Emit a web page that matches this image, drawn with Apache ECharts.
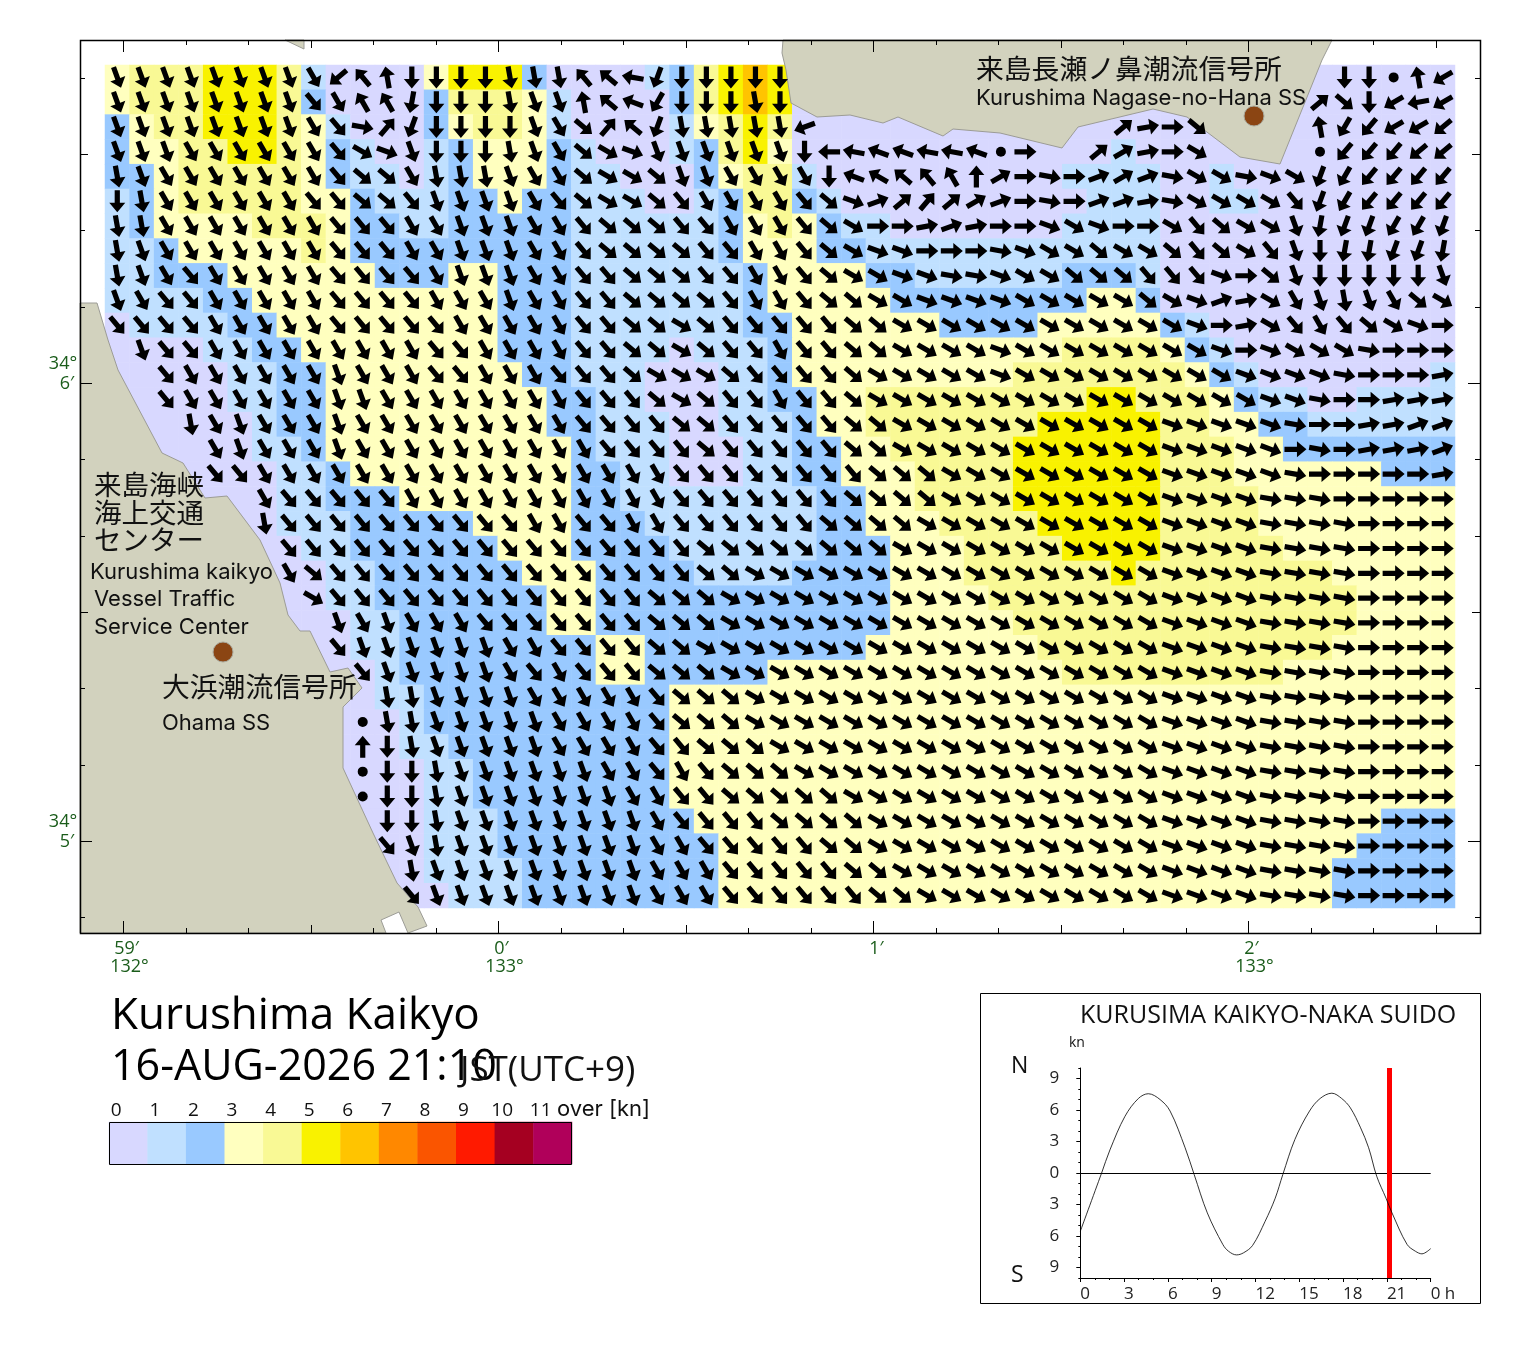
<!DOCTYPE html>
<html><head><meta charset="utf-8">
<style>html,body{margin:0;padding:0;background:#fff}#c{width:1520px;height:1353px}</style>
<script src="https://cdn.jsdelivr.net/npm/echarts@6/dist/echarts.min.js"></script>
</head><body><div id="c"></div>
<script>
// Speed class of each cell: 0 = 0-1 kn, 1 = 1-2 kn ... (run-length: "3*4" = 3333)
const speedRows = [
"3 4*3 5*3 4 1 0*4 3 5*3 2 0*4 1 2 4 5 6 5 0*27",
"3 4*3 5*3 4 2 0*4 2 4*3 3 1 0*4 2 4 5 6 5 0*27",
"2 3 4*2 5*3 4 3 1 0*3 2 3 4*2 3 1 0*4 1 3 4 5 4 0*27",
"2 3*2 4*2 5*2 4 3 2 1 0*2 1 2 3*3 2 1 0*3 1 2 4 5 3 0*13 1 0*13",
"2*2 3 4*5 3 2 1*2 0 1 2 3*3 2 1*2 0*3 2 3 4*2 1 0*10 1*4 0*2 1 0*9",
"1 2 3 4*5 3*2 2 1*3 2*2 3 2*2 1*3 0*2 1 2 4*2 2 1 0*10 1*3 0*2 1*2 0*8",
"1 2 3*4 4*3 3 2*2 1*2 2*5 1*6 2 3 4 3 2 1*2 0*7 1*4 0*12",
"1*2 2 3*5 4 3 2*9 1*6 2 3*3 2*2 1*12 0*12",
"1*2 2*3 3*6 2*3 3*2 2*3 1*7 2 3*4 2*2 1*6 2*3 1 0*12",
"1*4 2*2 3*10 2*3 1*7 2 3*5 2*8 3*2 2 0*12",
"0 1*4 2*2 3*9 2*3 1*7 2*2 3*6 2*4 3*5 2 1 0*10",
"0*4 1*2 2*2 3*8 2*3 1*4 0 1*3 2 3*11 4*4 3 2 1 0*9",
"0*5 1*2 2*2 3*8 2*2 1*3 0*3 1*2 2 3*9 4*7 3 2 1 0*7 1",
"0*5 1*2 2*2 3*9 2*2 1*2 0*3 1*2 2*2 3*2 4*9 5*2 4*3 3 2 1*2 0*2 1*4",
"0*6 1 2*2 3*9 2*2 1*3 0*2 1*3 2 3*2 4*7 5*5 4*2 3*2 2*2 1*6",
"0*6 1*2 2 3*10 2 1*3 0*3 1*2 2*2 3*2 4*5 5*6 4*3 3*2 2*7",
"0*7 1*2 2 3*9 2*2 1*2 0*3 1*2 2*2 3*3 4*4 5*6 4*3 3*6 2*3",
"0*7 1*2 2*3 3*7 2*2 1*8 2*2 3*2 4*4 5*6 4*4 3*8",
"0*7 1*3 2*5 3*4 2*3 1*7 2*2 3*3 4*4 5*5 4*4 3*8",
"0*8 1*2 2*6 3*3 2*4 1*6 2*3 3*3 4*4 5*4 4*5 3*7",
"0*9 1*2 2*6 3*3 2*4 1*4 2*4 3*3 4*6 5 4*8 3*5",
"0*9 1*2 2*7 3*2 2*12 3*4 4*15 3*4",
"0*10 1*2 2*6 3*2 2*12 3*5 4*14 3*4",
"0*10 1*2 2*8 3*2 2*9 3*7 4*12 3*5",
"0*11 1 2*8 3*2 2*5 3*12 4*9 3*7",
"0*11 1*2 2*10 3*32",
"0*12 1 2*10 3*32",
"0*12 1*2 2*9 3*32",
"0*13 1*2 2*8 3*32",
"0*13 1*2 2*8 3*32",
"0*13 1*3 2*8 3*28 2*3",
"0*13 1*3 2*9 3*26 2*4",
"0*13 1*4 2*8 3*25 2*5",
"0*14 1*3 2*8 3*25 2*5"
];
// Flow bearing of each cell in tens of degrees clockwise from north, base 36
// (i = 180, 9 = 90 ...); "." = no arrow, "@" = slack (dot).
const bearingRows = [
"g*8 f n w z i*4 h*3 w v s k i*5 .*22 i i @ z o",
"g*8 e f x x j i*3 h g g z v t l i*3 h i .*21 5 d i o q o",
"g*8 f e a 4 k i*4 g f d 4 v k h*5 p .*12 5 8 9 d .*4 z l m o o n",
"g*3 f*6 e c b g i*3 h g f d c b g*6 i r s t t s s t @ 9 .*2 5 6 8 9 c .*4 @ m*3 n*2",
"h g f*7 e d d f h*3 g f f d c c d g g f*4 i t u v w x 0 6 9 a 9 7 6 7 a c c a b c k l m*4",
"i h f*6 e e d d e g*4 f e d c c d e f*4 e d b 7 5 4 5 6 7 9 a 9 7 7 8 a c*4 e k l m*4",
"h h f*7 e*3 f f g*3 f f e d*3 e e f*3 e d c 9 9 8 7 8 9 9 b c b 9 9 c e d c c g j k k l l k",
"h g f*7 e*3 f f g*3 f f e d*4 e e f f e d c b b 9*3 a b c c d c c d e d c e g i j j k k j",
"h g f e f*5 e*4 f g*3 f f e e d*3 e e f f e d c c b b a a b c c d*3 e*3 b 9 d g i*5 g",
"g f e e f*5 e*4 f*3 g f f e e d*4 e f f e d d c c b*4 c*5 d c b 7 8 c f g h g f d c",
"e*4 f*5 e*5 f*5 e e d d c d e*5 d d c*12 b 9 8 c e f e d c b 9",
". g e e f*9 e e f*4 e e d d c d e e f e e d d c*4 b c*8 b 9 b c*3 a 9*3",
".*2 e f*6 g f*3 e e f*3 e*3 d c*3 d e*4 d c*5 b c*9 b*4 a 9*3 8",
".*2 e f*6 g g f*8 e*3 d c d e e f e e d c*16 b b a 9 9 8*3",
".*3 h f g f*3 g f*9 e*4 d d e*5 d d c*11 b*5 a 9 9 8 8 7 7",
".*4 f g f*3 g f*10 e*4 d e*5 d d c*11 b*5 9 a 9 8*3 7",
".*4 e e f*17 e*8 d*3 c*9 b*5 a 9*5 8",
".*6 f e*5 f*11 e*7 d*4 c*9 b*4 a*3 9*5",
".*6 h e*10 f f e e f f e*6 d*4 c*10 b*4 a*4 9*4",
".*7 e*17 d*8 c*11 b*4 a*4 9*4",
".*7 f d e*15 d d c*17 b*4 a*4 9*4",
".*8 c e*13 d*3 c*18 b*4 a*4 9*4",
".*9 g f g f*3 e*7 d*3 c*18 b*4 a*4 9*4",
".*9 e g*6 f f e*4 d d c*19 b*4 a*4 9*4",
".*10 e g*5 f e f e*3 d*3 c*18 b*4 a*4 9*4",
".*11 h h g*4 f f*4 e d*3 c*17 b*4 a*4 9*4",
".*10 @ h h g*5 f*4 e d*3 c*17 b*4 a*4 9*4",
".*10 0 i h g*5 f*4 e e d*3 c*16 b*4 a*4 9*4",
".*10 @ i i h g*6 f f e f e d*3 c*15 b*4 a*4 9*4",
".*10 @ i i h g*7 f f e e d*5 c*13 b*4 a*4 9*4",
".*11 i i h g*8 f e*4 d*4 c*12 b*4 a*4 9*4",
".*11 e g h g*8 f f e*5 d d c*12 b*4 a*4 9*4",
".*12 h g*9 f*3 e*5 d d c*11 b*4 a*4 9*4",
".*12 e g*9 f*3 e*6 d d c*10 b*4 a*4 9*4"
];
const speedColors = ['#d8d8ff','#c0e0ff','#99c9ff','#ffffbf','#f9f995','#f9f200','#ffc400','#ff8800','#fa5500','#ff1a00','#a50021','#b0005a'];
const legendLabels = ['0','1','2','3','4','5','6','7','8','9','10','11'];
// Tide curve, hour of day and knots (north positive)
const tideHours  = [0,1.46,2.03,3.06,3.98,4.66,5.46,6.15,7.18,7.8,8.7,9.76,10.15,10.7,11.18,11.8,12.66,13.35,13.87,14.7,15.7,16.43,17.23,17.9,18.5,19.2,19.75,20.3,20.94,21.35,22.38,22.95,23.4,24];
const tideKnots  = [-5.55,0,2.2,5.4,7.1,7.55,7.0,5.9,2.4,-0.15,-3.8,-6.8,-7.45,-7.8,-7.6,-6.9,-4.6,-2.4,-0.15,3.2,5.9,7.1,7.6,7.1,6.2,4.3,2.4,-0.3,-2.4,-3.8,-6.8,-7.45,-7.7,-7.2];
const nowHour = 21.167;
const tideYLabels = [-9,-6,-3,0,3,6,9];
const tideYMinor = [-10,-8,-7,-5,-4,-2,-1,1,2,4,5,7,8,10];
// Map ticks, arc-seconds east of 133°00' and north of 34°05'
const lonTicks = [-60,-50,-40,-30,-20,-10,0,10,20,30,40,50,60,70,80,90,100,110,120,130,140,150];
const latTicks = [-10,0,10,20,30,40,50,60,70,80,90,100];
const lonLabels = {'-60':['59′','132°'],'0':['0′','133°'],'60':['1′',''],'120':['2′','133°']};
const latLabels = {'60':['34°','6′'],'0':['34°','5′']};
// Coast outlines
const coastWest = [[80,303],[97,303],[108,340],[118,370],[162,453],[183,463],[205,498],[227,496],[260,540],[280,583],[288,615],[300,631],[310,631],[330,672],[348,668],[362,688],[343,707],[343,768],[373,833],[397,883],[418,907],[427,926],[408,933],[399,912],[381,920],[386,933],[80,933]];
const coastEast = [[783,40],[782,53],[786,70],[791,103],[817,117],[850,115],[883,123],[898,117],[943,136],[953,129],[1000,133],[1062,148],[1078,127],[1153,109],[1187,117],[1240,157],[1280,164],[1322,60],[1332,40]];
const coastNorth = [[285,40],[304,49],[304,40]];
const stations = [[1254,116],[223,652]];

const FONT = '"Noto Sans CJK JP","Noto Sans",sans-serif';
const LATIN = '"Open Sans","Noto Sans",sans-serif';
const WIDE = 'Inter,"Open Sans",sans-serif';
const expand = s => s.replace(/(\S)\*(\d+)/g,(m,c,n)=>c.repeat(+n)).replace(/\s/g,'');
const heat = [], arrows = [], dots = [];
speedRows.forEach((row,r)=>{
  expand(row).split('').forEach((ch,c)=>heat.push([c,r,+ch]));
});
bearingRows.forEach((row,r)=>{
  expand(row).split('').forEach((ch,c)=>{
    if(ch==='.') return;
    if(ch==='@'){dots.push([c,r]);return;}
    arrows.push({value:[c,r],symbolRotate:-10*parseInt(ch,36)});
  });
});
const cols = Array.from({length:55},(_,i)=>String(i));
const rows = Array.from({length:34},(_,i)=>String(i));
const ARROW = 'path://M8 0L16 9.5L10.6 9.5L10.6 22L5.4 22L5.4 9.5L0 9.5Z';

const tickLen = v => v%60===0 ? 12 : (Math.abs(v)%30===0 ? 8 : 5);
const green = '#1a5c1a';
function tickItem(isLon){
  return function(params,api){
    const v = api.value(isLon?0:1);
    const p = api.coord(isLon?[v,0]:[0,v]);
    const len = tickLen(v), kids=[];
    const st = {stroke:'#000',lineWidth:1};
    if(isLon){
      const x=Math.round(p[0])+.5;
      kids.push({type:'line',shape:{x1:x,y1:40,x2:x,y2:40+len},style:st});
      kids.push({type:'line',shape:{x1:x,y1:933,x2:x,y2:933-len},style:st});
      const l=lonLabels[v];
      if(l){
        kids.push({type:'text',style:{text:l[0],x:x+3,y:949,fill:green,font:'18px '+LATIN,textAlign:'center',textVerticalAlign:'middle'}});
        kids.push({type:'text',style:{text:l[1],x:x+6,y:967,fill:green,font:'18px '+LATIN,textAlign:'center',textVerticalAlign:'middle'}});
      }
    }else{
      const y=Math.round(p[1])+.5;
      kids.push({type:'line',shape:{x1:80,y1:y,x2:80+len,y2:y},style:st});
      kids.push({type:'line',shape:{x1:1480,y1:y,x2:1480-len,y2:y},style:st});
      const l=latLabels[v];
      if(l){
        kids.push({type:'text',style:{text:l[0],x:63,y:y-20,fill:green,font:'18px '+LATIN,textAlign:'center',textVerticalAlign:'middle'}});
        kids.push({type:'text',style:{text:l[1],x:67,y:y,fill:green,font:'18px '+LATIN,textAlign:'center',textVerticalAlign:'middle'}});
      }
    }
    return {type:'group',children:kids};
  };
}
const txt=(text,x,y,size,extra,fam)=>({type:'text',z:50,style:Object.assign({text,x,y,fill:'#111',font:size+'px '+(fam||LATIN),textVerticalAlign:'middle'},extra||{})});

const option = {
  animation:false, backgroundColor:'#fff',
  grid:[
    {left:80,top:40,width:1400,height:893},
    {left:105,top:65,width:1350,height:843},
    {left:109,top:1122,width:463,height:42},
    {left:1080.3,top:1068,width:350.4,height:210}
  ],
  xAxis:[
    {gridIndex:0,type:'value',min:-66.88,max:157.12,show:false},
    {gridIndex:1,type:'category',data:cols,show:false},
    {gridIndex:2,type:'category',data:legendLabels,position:'top',axisLine:{show:false},axisTick:{show:false},
      axisLabel:{interval:0,margin:2,color:'#111',fontSize:19,fontFamily:LATIN,padding:[0,24,0,0]}},
    {gridIndex:3,type:'value',min:0,max:24,interval:3,axisLine:{lineStyle:{color:'#000'},onZero:false},splitLine:{show:false},
      axisTick:{length:4,lineStyle:{color:'#000'}},minorTick:{show:true,splitNumber:3,length:2,lineStyle:{color:'#000'}},
      axisLabel:{margin:8,align:'left',color:'#222',fontSize:17,fontFamily:LATIN,showMaxLabel:true,hideOverlap:false,formatter:v=>v===24?'0 h':String(v)}}
  ],
  yAxis:[
    {gridIndex:0,type:'value',min:-12.05,max:104.94,show:false},
    {gridIndex:1,type:'category',data:rows,inverse:true,show:false},
    {gridIndex:2,type:'category',data:['speed'],show:false},
    {gridIndex:3,type:'value',min:-10,max:10,axisLine:{show:true,onZero:false,lineStyle:{color:'#000'}},splitLine:{show:false},
      axisTick:{show:true,length:4,customValues:tideYLabels,lineStyle:{color:'#000'}},
      axisLabel:{show:true,customValues:tideYLabels,margin:21,color:'#222',fontSize:17,fontFamily:LATIN,formatter:v=>String(Math.abs(v))}},
    {gridIndex:3,type:'value',min:-10,max:10,position:'left',axisLine:{show:false},splitLine:{show:false},axisLabel:{show:false},
      axisTick:{show:true,length:2,customValues:tideYMinor,lineStyle:{color:'#000'}}}
  ],
  visualMap:{show:false,type:'piecewise',dimension:2,seriesIndex:[0,1],
    pieces:speedColors.map((color,i)=>({value:i,color}))},
  series:[
    {type:'heatmap',xAxisIndex:1,yAxisIndex:1,data:heat,z:1,progressive:0,itemStyle:{borderWidth:0},emphasis:{disabled:true}},
    {type:'heatmap',xAxisIndex:2,yAxisIndex:2,data:legendLabels.map((_,i)=>[i,0,i]),z:1,emphasis:{disabled:true}},
    {type:'custom',coordinateSystem:'none',z:3,silent:true,data:[0],renderItem:()=>({type:'group',children:[
      ...[coastWest,coastEast,coastNorth].map(pts=>({type:'polygon',shape:{points:pts},style:{fill:'#d2d2be',stroke:'#9c9c96',lineWidth:1}})),
      ...stations.map(s=>({type:'circle',shape:{cx:s[0],cy:s[1],r:10},style:{fill:'#8b4513',stroke:'#a9a89c',lineWidth:1}}))
    ]})},
    {type:'scatter',xAxisIndex:1,yAxisIndex:1,data:arrows,z:5,symbol:ARROW,symbolSize:[16,22],progressive:0,silent:true,
      itemStyle:{color:'#000',opacity:1}},
    {type:'scatter',xAxisIndex:1,yAxisIndex:1,data:dots,z:5,symbol:'circle',symbolSize:10,silent:true,itemStyle:{color:'#000',opacity:1}},
    {type:'custom',xAxisIndex:0,yAxisIndex:0,z:8,silent:true,clip:false,encode:{x:0,y:1},data:lonTicks.map(v=>[v,0]),renderItem:tickItem(true)},
    {type:'custom',xAxisIndex:0,yAxisIndex:0,z:8,silent:true,clip:false,encode:{x:0,y:1},data:latTicks.map(v=>[0,v]),renderItem:tickItem(false)},
    {type:'line',xAxisIndex:3,yAxisIndex:3,data:tideHours.map((h,i)=>[h,tideKnots[i]]),showSymbol:false,silent:true,z:5,smooth:0.35,
      lineStyle:{color:'#000',width:0.8},
      markLine:{silent:true,symbol:'none',label:{show:false},animation:false,data:[
        {yAxis:0,lineStyle:{color:'#000',width:1,type:'solid'}},
        {xAxis:nowHour,lineStyle:{color:'#ff0000',width:5,type:'solid'}}
      ]}}
  ],
  graphic:{elements:[
    {type:'rect',z:40,shape:{x:80.5,y:40.5,width:1400,height:893},style:{fill:'none',stroke:'#000',lineWidth:1.5},silent:true},
    {type:'rect',z:40,shape:{x:109.5,y:1122.5,width:462,height:42},style:{fill:'none',stroke:'#000',lineWidth:1},silent:true},
    {type:'rect',z:40,shape:{x:980.5,y:993.5,width:500,height:310},style:{fill:'none',stroke:'#000',lineWidth:1},silent:true},
    txt('来島長瀬ノ鼻潮流信号所',976,68,27.8,null,FONT),
    txt('Kurushima Nagase-no-Hana SS',976,98,22,null,WIDE),
    txt('来島海峡',94,485,27.5,null,FONT),
    txt('海上交通',94,513,27.5,null,FONT),
    txt('センター',94,540,27.5,null,FONT),
    txt('Kurushima kaikyo',90,572,22,null,WIDE),
    txt('Vessel Traffic',94,599,22,null,WIDE),
    txt('Service Center',94,627,22,null,WIDE),
    txt('大浜潮流信号所',162,686,27.8,null,FONT),
    txt('Ohama SS',162,723,22,null,WIDE),
    txt('Kurushima Kaikyo',111,1016,44,{fill:'#000'}),
    txt('16-AUG-2026 21:10',111,1068,43,{fill:'#000'}),
    txt('JST(UTC+9)',460,1071,35),
    txt('over [kn]',557,1109,22,null,WIDE),
    txt('KURUSIMA KAIKYO-NAKA SUIDO',1080,1016,25),
    txt('kn',1069,1043,14),
    txt('N',1011,1066,23),
    txt('S',1011,1275,23)
  ]}
};
const chart = echarts.init(document.getElementById('c'),null,{renderer:'canvas',width:1520,height:1353});
chart.setOption(option);
</script></body></html>
